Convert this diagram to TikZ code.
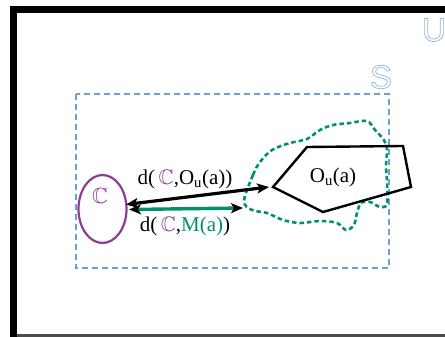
\documentclass[tikz,border=0pt]{standalone}
\usepackage{amssymb}
\usepackage{fontspec}
\setmainfont{Liberation Serif}
\setsansfont{Liberation Sans}
\usetikzlibrary{arrows.meta}
\definecolor{sblue}{HTML}{6F9FCF}
\definecolor{lblue}{HTML}{8DB6E0}
\definecolor{cpurple}{HTML}{8E3C98}
\definecolor{mgreen}{HTML}{00906E}
\newcommand{\outlinetxt}[1]{\special{pdf:literal direct 1 Tr 0.7 w}#1\special{pdf:literal direct 0 Tr}}
\tikzset{
  setbox/.style={draw=sblue, line width=1.5pt, dash pattern=on 6pt off 4pt},
  cset/.style={draw=cpurple, line width=2.2pt},
  oset/.style={draw=black, line width=2.4pt, line join=miter},
  mset/.style={draw=mgreen, line width=2.6pt, dash pattern=on 4.5pt off 3pt},
  bigletter/.style={font=\sffamily\fontsize{33}{33}\selectfont, text=lblue, inner sep=0pt},
  lbl/.style={font=\fontsize{21}{21}\selectfont, inner sep=0pt},
  distarrow/.style={line width=3.2pt, {Stealth[length=12pt,width=10pt,inset=3pt]}-{Stealth[length=12pt,width=10pt,inset=3pt]}},
}
\begin{document}
\begin{tikzpicture}[x=1pt,y=-1pt]
\useasboundingbox (0,0) rectangle (445,337);
% universe frame
\draw[line width=7.5pt, line cap=butt] (450,9.5) -- (13.5,9.5) -- (13.5,340);
\draw[draw=gray!60!black, line width=2.5pt] (17,335.5) -- (450,335.5);
\node[bigletter, anchor=center] (U) at (434,30) {\outlinetxt{U}};
% set S
\draw[setbox] (76,94) rectangle (389,268);
\node[bigletter, anchor=center] (S) at (381,77) {\outlinetxt{S}};
% set C
\draw[cset] (102.5,209) ellipse (24 and 34);
\coordinate (Cc) at (102.5,209);
\node[font=\fontsize{22}{22}\selectfont, text=cpurple, inner sep=0pt] (Clab) at (100,196) {$\mathbb{C}$};
% set M(a)
\draw[mset] plot[smooth cycle, tension=0.55] coordinates {
 (244,201) (253,175) (260,162) (272,150) (290,143) (307,139) (320,130)
 (333,125) (350,123) (367,121) (375,130) (384,140) (387,150) (386,166)
 (387,182) (387,204) (380,207) (370,202) (361,203) (357,213) (354,225)
 (346,230) (337,223) (320,221) (300,223) (283,220) (267,213) (252,210)};
% O_u(a)
\draw[oset] (273,187) -- (307,147) -- (403,146) -- (411,187) -- (323,212) -- cycle;
\node[lbl] (Olab) at (333,177) {O\textsubscript{u}(a)};
\coordinate (Otip) at (269,187);
\coordinate (Cl1) at (126,204.5);
\coordinate (Cl2) at (129,209.5);
\coordinate (Mtip) at (243,208);
% distances
\draw[distarrow, draw=black] (Cl1) -- (Otip);
\draw[line width=3.4pt, draw=mgreen, {Stealth[black,length=12pt,width=10pt,inset=3pt]}-{Stealth[black,length=12pt,width=10pt,inset=3pt]}] (Cl2) -- (Mtip);
\node[lbl] (d1) at (185,179) {d(\,\textcolor{cpurple}{$\mathbb{C}$},O\textsubscript{u}(a))};
\node[lbl] (d2) at (185,226) {d(\,\textcolor{cpurple}{$\mathbb{C}$},\textcolor{mgreen}{M(a)})};
\end{tikzpicture}
\end{document}
